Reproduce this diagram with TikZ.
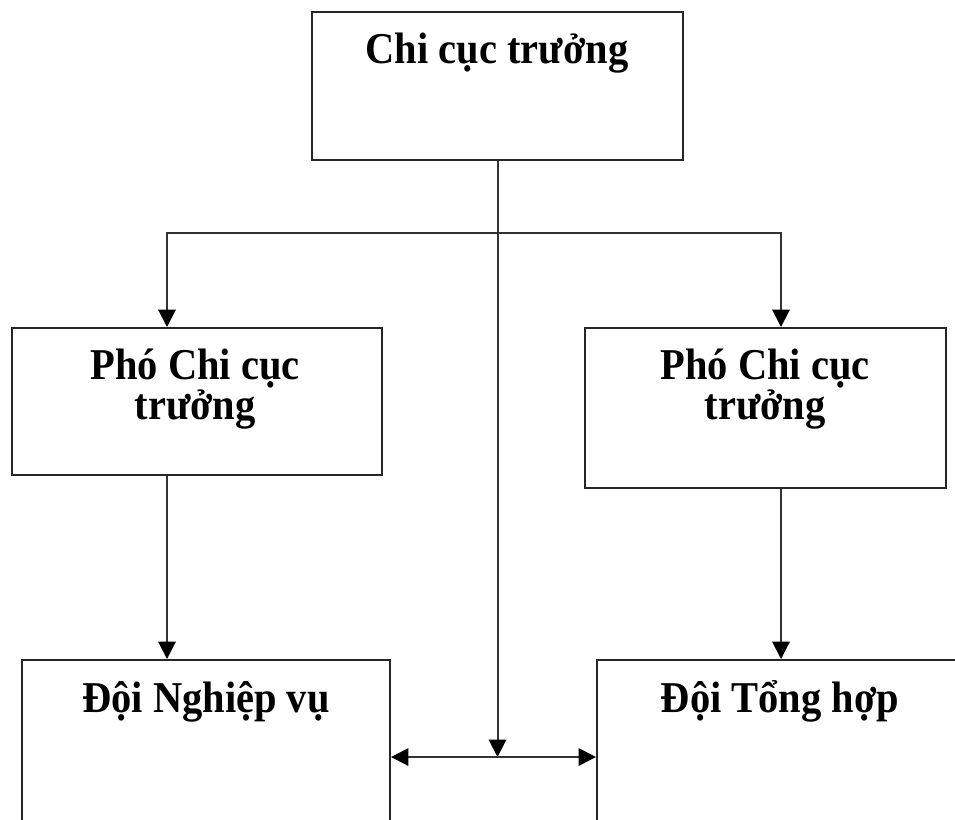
\documentclass[tikz,border=0pt]{standalone}
\usepackage{fontspec}
\setmainfont{Liberation Serif}[FakeStretch=0.92]
\usetikzlibrary{arrows.meta}
% fixed line spacing for the two-line labels
\newcommand\labelfont{\fontsize{33pt}{30pt}\selectfont\bfseries\lineskiplimit=-100pt\relax}
\begin{document}
\begin{tikzpicture}[x=0.75pt,y=-0.75pt,
  box/.style={draw=black!85, line width=1.5pt, rectangle, inner sep=0pt},
  lbl/.style={font=\labelfont, align=center, inner sep=0pt, anchor=base},
  conn/.style={draw=black!80, line width=1.5pt},
  tip/.style={-{Triangle[length=13pt,width=13pt,color=black]}},
  tips/.style={{Triangle[length=13pt,width=13pt,color=black]}-{Triangle[length=13pt,width=13pt,color=black]}}]
\useasboundingbox (0,0) rectangle (955,819);
\clip (0,0) rectangle (955,819);
\fill[white] (0,0) rectangle (955,819);

% boxes
\node[box, minimum width=278.25pt, minimum height=111pt] (top) at (497.5,86) {};
\node[box, minimum width=277.5pt, minimum height=110.25pt] (ml) at (197,401.5) {};
\node[box, minimum width=270.75pt, minimum height=120pt] (mr) at (765.5,408) {};
\node[box, minimum width=276pt, minimum height=180pt] (bl) at (206,780) {};
\node[box, minimum width=302.25pt, minimum height=180pt] (br) at (798.5,780) {};

% labels (base anchor sits on the last line)
\node[lbl] (ttop) at (497,63) {Chi cục trưởng};
\node[lbl] (tml) at (195,419) {Phó Chi cục\\trưởng};
\node[lbl] (tmr) at (765,419) {Phó Chi cục\\trưởng};
\node[lbl] (tbl) at (206,712) {Đội Nghiệp vụ};
\node[lbl] (tbr) at (780,712) {Đội Tổng hợp};

% connectors
\coordinate (jL) at (167,233);
\coordinate (jR) at (781,233);
\coordinate (hub) at (497.5,757);
\draw[conn, tips] (jL |- ml.north) -- (jL) -- (jR) -- (jR |- mr.north);
\draw[conn, tip] (ml.south -| jL) -- (bl.north -| jL);
\draw[conn, tip] (mr.south -| jR) -- (br.north -| jR);
\draw[conn, tip] (top.south) -- (hub);
\draw[conn, tips] (bl.east |- hub) -- (br.west |- hub);
\end{tikzpicture}
\end{document}
